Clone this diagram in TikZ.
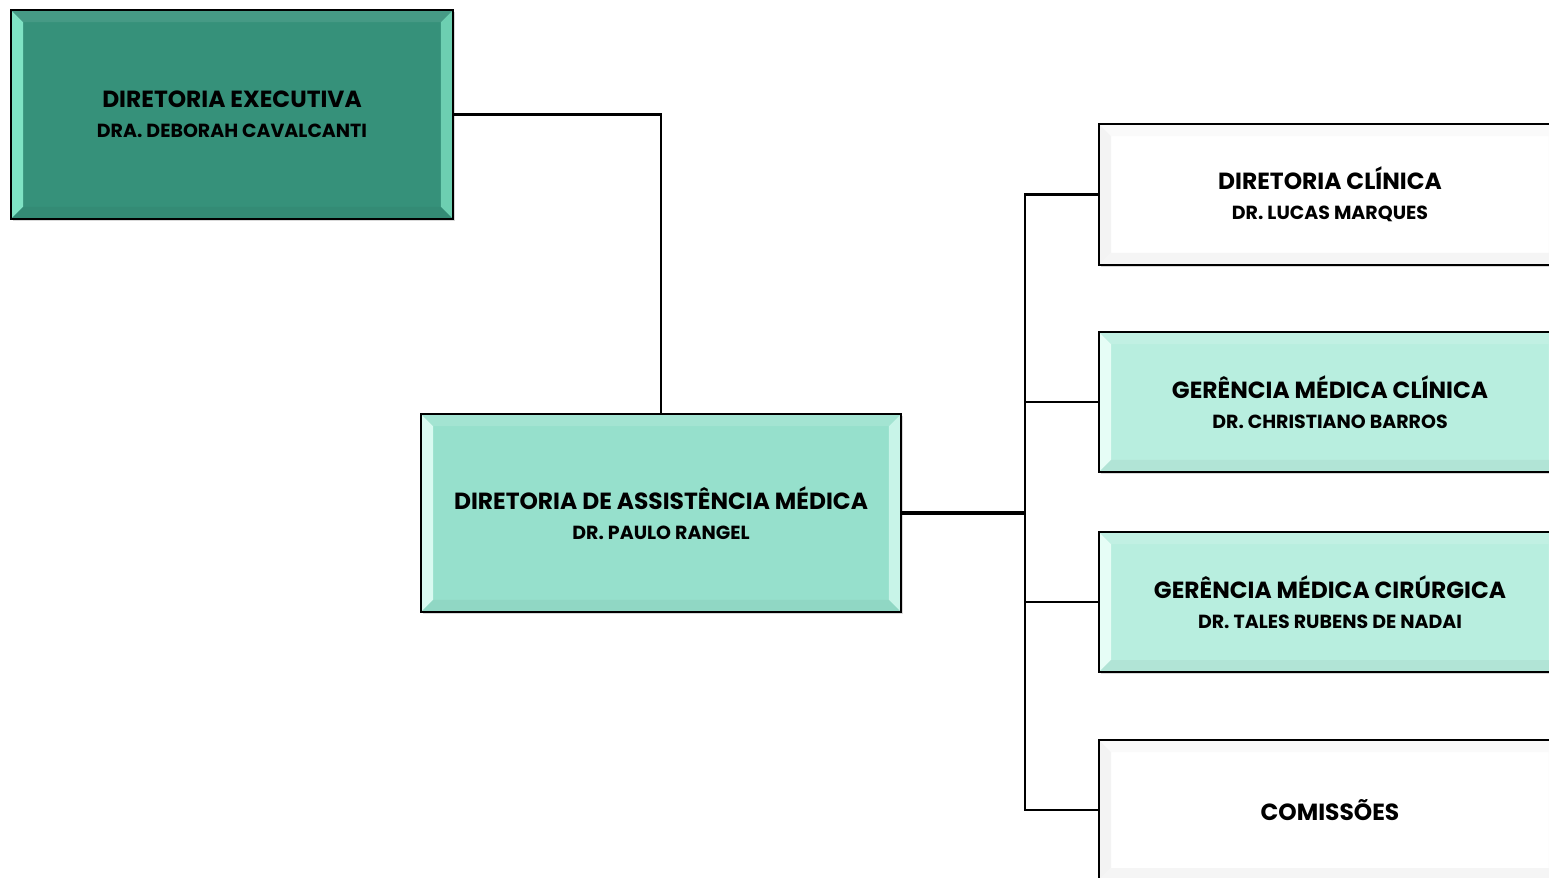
\documentclass[tikz,border=0pt]{standalone}
\usepackage{fontspec}
\setmainfont{Poppins}
\usepackage{xcolor}
\usetikzlibrary{positioning,calc,shadows}

\definecolor{execgreen}{HTML}{36917A}
\definecolor{execbevel}{HTML}{7FE3C4}
\definecolor{damgreen}{HTML}{96E0CC}
\definecolor{dambevel}{HTML}{D9FAF1}
\definecolor{gergreen}{HTML}{B8EEDF}
\definecolor{gerbevel}{HTML}{E6FDF6}
\definecolor{whitebevel}{HTML}{F3F3F3}

\tikzset{
    orgbox/.style n args={3}{draw=black, line width=1.6pt, rectangle, inner sep=0pt,
        align=center, fill=#1, drop shadow={opacity=0.3, shadow xshift=1.2pt, shadow yshift=-1.2pt},
        path picture={
            \fill[#2] (path picture bounding box.south west) -- (path picture bounding box.north west)
                -- ($(path picture bounding box.north west)+(0.24cm,-0.24cm)$)
                -- ($(path picture bounding box.south west)+(0.24cm,0.24cm)$) -- cycle;
            \fill[#2!75!#1] (path picture bounding box.south east) -- (path picture bounding box.north east)
                -- ($(path picture bounding box.north east)+(-0.24cm,-0.24cm)$)
                -- ($(path picture bounding box.south east)+(-0.24cm,0.24cm)$) -- cycle;
            \fill[#3] (path picture bounding box.north west) -- (path picture bounding box.north east)
                -- ($(path picture bounding box.north east)+(-0.24cm,-0.24cm)$)
                -- ($(path picture bounding box.north west)+(0.24cm,-0.24cm)$) -- cycle;
            \fill[#1!96!black] (path picture bounding box.south west) -- (path picture bounding box.south east)
                -- ($(path picture bounding box.south east)+(-0.24cm,0.24cm)$)
                -- ($(path picture bounding box.south west)+(0.24cm,0.24cm)$) -- cycle;
        }},
    link/.style={line width=1.6pt},
}
\newcommand{\boxtext}[2]{{\fontsize{13.3}{16}\selectfont\bfseries #1}\\[5pt]{\fontsize{10.8}{12}\selectfont\bfseries #2}}

\begin{document}
\begin{tikzpicture}[x=0.02cm,y=-0.02cm]
    \useasboundingbox (0,0) rectangle (1549,877);

    % Diretoria executiva
    \node[orgbox={execgreen}{execbevel}{execgreen!92!white}, minimum width=8.84cm, minimum height=4.18cm] (exec) at (232,114.5)
        {\boxtext{DIRETORIA EXECUTIVA}{DRA. DEBORAH CAVALCANTI}};

    % Diretoria de assistencia medica
    \node[orgbox={damgreen}{dambevel}{damgreen!88!white}, minimum width=9.6cm, minimum height=3.96cm] (dam) at (661,513)
        {\boxtext{DIRETORIA DE ASSIST\^ENCIA M\'EDICA}{DR. PAULO RANGEL}};

    % Right column
    \node[orgbox={white}{whitebevel}{white!98!black}, minimum width=9.24cm, minimum height=2.82cm] (dclin) at (1330,194.5)
        {\boxtext{DIRETORIA CL\'INICA}{DR. LUCAS MARQUES}};
    \node[orgbox={gergreen}{gerbevel}{gergreen!88!white}, minimum width=9.24cm, minimum height=2.8cm] (gmc) at (1330,402)
        {\boxtext{GER\^ENCIA M\'EDICA CL\'INICA}{DR. CHRISTIANO BARROS}};
    \node[orgbox={gergreen}{gerbevel}{gergreen!88!white}, minimum width=9.24cm, minimum height=2.8cm] (gmcir) at (1330,602)
        {\boxtext{GER\^ENCIA M\'EDICA CIR\'URGICA}{DR. TALES RUBENS DE NADAI}};
    \node[orgbox={white}{whitebevel}{white!98!black}, minimum width=9.24cm, minimum height=2.8cm] (comis) at (1330,810)
        {{\fontsize{13.3}{16}\selectfont\bfseries COMISS\~OES}};

    % Connectors
    \draw[link] (exec.east) -| (dam.north);
    \coordinate (bus) at (1025,513);
    \draw[link, line width=2.4pt] (dam.east) -- (bus);
    \foreach \n in {dclin,gmc,gmcir,comis}
        \draw[link] (bus) |- (\n.west);
\end{tikzpicture}
\end{document}
